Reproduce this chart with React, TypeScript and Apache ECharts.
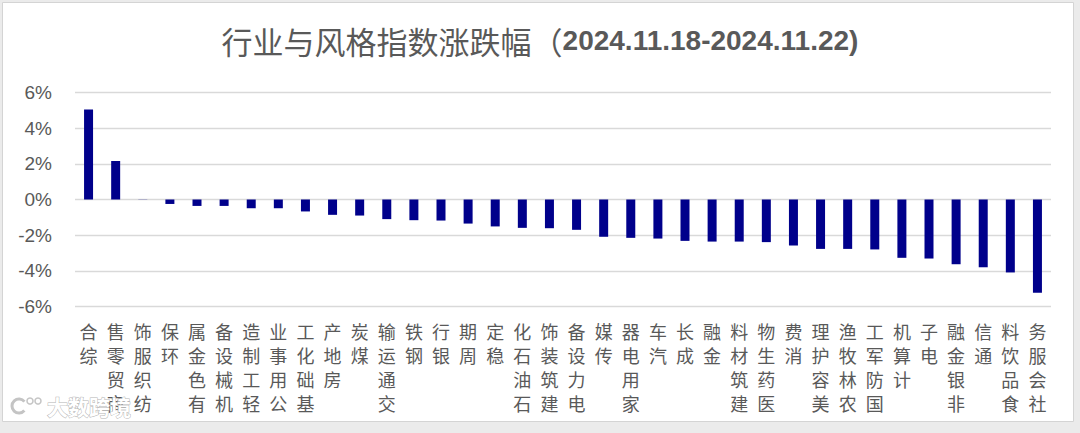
import React, { useEffect, useRef } from "react";
import * as echarts from "echarts";

const titleMain = "行业与风格指数涨跌幅（";
const titleDate = "2024.11.18-2024.11.22)";

const categories = [
  "综合", "商贸零售", "纺织服饰", "环保", "有色金属", "机械设备", "轻工制造", "公用事业",
  "基础化工", "房地产", "煤炭", "交通运输", "钢铁", "银行", "周期", "稳定",
  "石油石化", "建筑装饰", "电力设备", "传媒", "家用电器", "汽车", "成长", "金融",
  "建筑材料", "医药生物", "消费", "美容护理", "农林牧渔", "国防军工", "计算机", "电子",
  "非银金融", "通信", "食品饮料", "社会服务",
];

const changes = [
  5.05, 2.16, -0.01, -0.25, -0.36, -0.36, -0.49, -0.49,
  -0.67, -0.86, -0.9, -1.1, -1.16, -1.18, -1.35, -1.51,
  -1.59, -1.61, -1.7, -2.09, -2.15, -2.19, -2.32, -2.36,
  -2.36, -2.39, -2.58, -2.77, -2.77, -2.8, -3.27, -3.31,
  -3.63, -3.8, -4.09, -5.23,
];

const yMin = -6;
const yMax = 6;
const yStep = 2;

const watermark = "大数跨境";

export default function App() {
  const ref = useRef<HTMLDivElement>(null);

  useEffect(() => {
    if (!ref.current) return;
    const chart = echarts.init(ref.current, null, { renderer: "svg" });
    chart.setOption({
      animation: false,
      backgroundColor: "#ebebeb",
      title: {
        text: `{a|${titleMain}}{b|${titleDate}}`,
        left: "center",
        top: 20,
        textStyle: {
          rich: {
            a: {
              fontFamily: "Noto Sans CJK SC",
              fontSize: 31,
              fontWeight: "normal",
              color: "#595959",
            },
            b: {
              fontFamily: "Liberation Sans",
              fontSize: 28,
              fontWeight: "bold",
              color: "#595959",
            },
          },
        },
      },
      graphic: [
        {
          type: "rect",
          z: -10,
          shape: { x: 2.5, y: 2.5, width: 1071, height: 419 },
          style: { fill: "#ffffff", stroke: "#d4d4d4", lineWidth: 1 },
        },
        {
          type: "arc",
          z: 100,
          shape: { cx: 19, cy: 406, r: 7, startAngle: 0.7, endAngle: 5.6 },
          style: { stroke: "#c4c4c4", lineWidth: 3, fill: "none" },
        },
        {
          type: "circle",
          z: 100,
          shape: { cx: 30, cy: 401, r: 3 },
          style: { stroke: "#c4c4c4", lineWidth: 1.5, fill: "none" },
        },
        {
          type: "circle",
          z: 100,
          shape: { cx: 38, cy: 401, r: 3 },
          style: { stroke: "#c4c4c4", lineWidth: 1.5, fill: "none" },
        },
        {
          type: "text",
          z: 100,
          x: 47,
          y: 406,
          style: {
            text: watermark,
            fontFamily: "Noto Sans CJK SC",
            fontSize: 21,
            fontWeight: "bold",
            fill: "#ffffff",
            stroke: "#b5b5b5",
            lineWidth: 1,
            verticalAlign: "middle",
            align: "left",
          },
        },
      ],
      grid: {
        left: 75,
        right: 29,
        top: 92.5,
        bottom: 126.5,
        containLabel: false,
      },
      xAxis: {
        type: "category",
        data: categories,
        position: "bottom",
        axisLine: { show: false, onZero: false },
        axisTick: { show: false },
        splitLine: { show: false },
        axisLabel: {
          interval: 0,
          margin: 12,
          fontFamily: "Noto Sans CJK SC",
          fontSize: 18,
          lineHeight: 24,
          color: "#595959",
          verticalAlign: "top",
          formatter: (v: string) => v.split("").reverse().join("\n"),
        },
      },
      yAxis: {
        type: "value",
        min: yMin,
        max: yMax,
        interval: yStep,
        axisLine: { show: false },
        axisTick: { show: false },
        splitLine: { show: true, lineStyle: { color: "#d9d9d9", width: 1.3 } },
        axisLabel: {
          margin: 23,
          fontFamily: "Liberation Sans",
          fontSize: 19,
          color: "#595959",
          formatter: (v: number) => `${v}%`,
        },
      },
      series: [
        {
          type: "bar",
          data: changes,
          barWidth: 9,
          itemStyle: { color: "#00008b" },
        },
      ],
    });
    return () => chart.dispose();
  }, []);

  return (
    <div
      ref={ref}
      style={{ position: "fixed", left: 0, top: 0, width: 1080, height: 433 }}
    />
  );
}
